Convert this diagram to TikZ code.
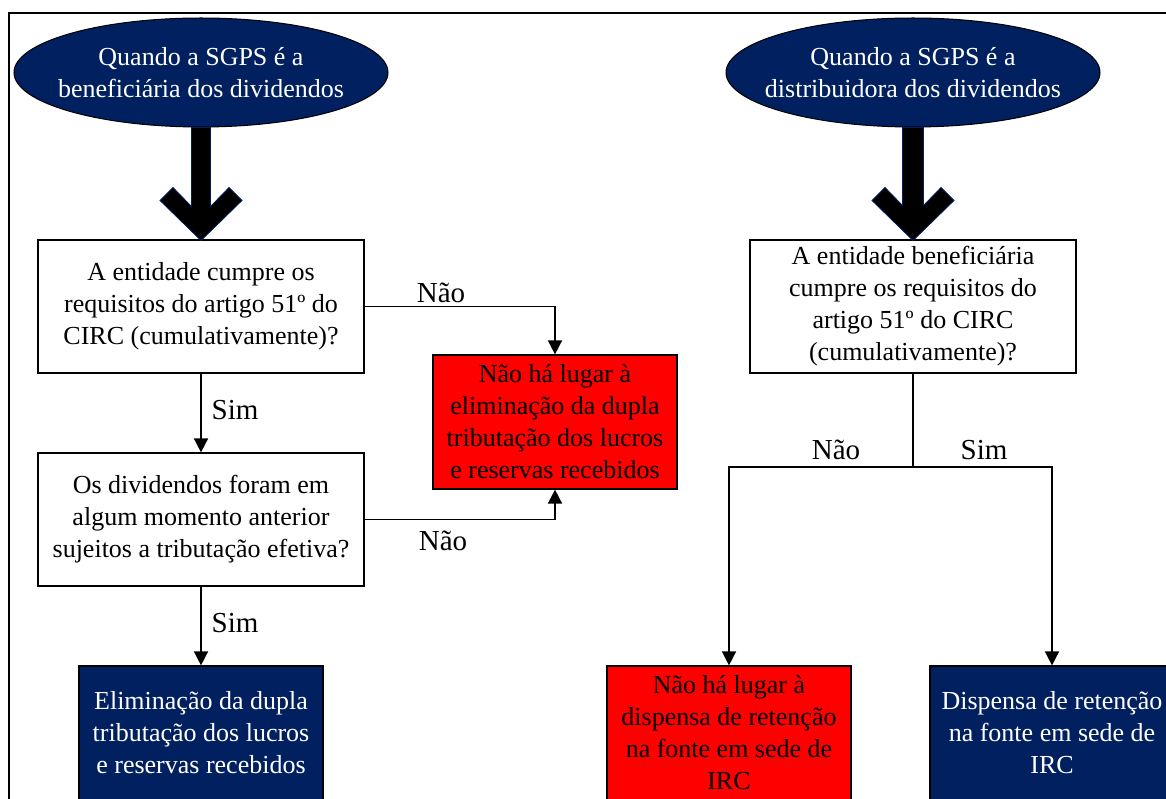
\documentclass[tikz,border=0pt]{standalone}
\usepackage{fontspec}
\setmainfont{Liberation Serif}
\usetikzlibrary{shapes.geometric,arrows.meta}
\definecolor{navy}{HTML}{002060}
\definecolor{alertred}{HTML}{FF0000}
\begin{document}
\begin{tikzpicture}[x=1pt,y=-1pt,
  txt/.style={font=\fontsize{26}{32}\selectfont, align=center},
  startoval/.style={ellipse, draw=black, line width=1pt, fill=navy,
    minimum width=374pt, minimum height=109pt, inner sep=0pt},
  ovaltext/.style={txt, text=white, inner sep=0pt},
  question/.style={txt, draw=black, line width=1.2pt, fill=white,
    minimum width=326pt, minimum height=133pt, inner sep=0pt},
  outcome/.style={txt, draw=black, line width=1.2pt,
    minimum width=244pt, minimum height=134pt, inner sep=0pt},
  negative/.style={outcome, fill=alertred, text=black},
  positive/.style={outcome, fill=navy, text=white},
  link/.style={line width=1.6pt},
  flow/.style={link, -{Triangle[length=14pt,width=14pt]}},
  lbl/.style={font=\fontsize{29}{32}\selectfont, inner sep=0pt, anchor=base},
  bigarrow/.style={fill=black, draw=navy, line width=0.8pt, line join=miter},
]
\useasboundingbox (0,0) rectangle (1166,799);
\clip (0,0) rectangle (1166,799);
\fill[white] (0,0) rectangle (1166,799);

% outer frame
\draw[line width=2.6pt] (9,13) rectangle (1220,860);

% left branch
\node[startoval] (e1) at (201,72.5) {};
\node[ovaltext] (t1) at (e1.center) {Quando a SGPS é a\\beneficiária dos dividendos};
\node[question] (q1) at (201,306.5) {A entidade cumpre os\\requisitos do artigo 51º do\\CIRC (cumulativamente)?};
\node[question] (q2) at (201,519.5) {Os dividendos foram em\\algum momento anterior\\sujeitos a tributação efetiva?};
\node[negative] (r1) at (555,422) {Não há lugar à\\eliminação da dupla\\tributação dos lucros\\e reservas recebidos};
\node[positive] (b1) at (201,733) {Eliminação da dupla\\tributação dos lucros\\e reservas recebidos};

% right branch
\node[startoval] (e2) at (913,72.5) {};
\node[ovaltext] (t2) at (e2.center) {Quando a SGPS é a\\distribuidora dos dividendos};
\node[question] (q3) at (913,306.5) {A entidade beneficiária\\cumpre os requisitos do\\artigo 51º do CIRC\\(cumulativamente)?};
\node[negative] (r2) at (729,733) {Não há lugar à\\dispensa de retenção\\na fonte em sede de\\IRC};
\node[positive] (b2) at (1052,733) {Dispensa de retenção\\na fonte em sede de\\IRC};

% block arrows below the ovals
\begin{scope}[shift={(e1.south)}]
  \draw[bigarrow] (-9.5,0) -- (-9.5,79) -- (-28,60) -- (-41,73) -- (0,113)
    -- (41,73) -- (28,60) -- (9.5,79) -- (9.5,0) -- cycle;
\end{scope}
\begin{scope}[shift={(e2.south)}]
  \draw[bigarrow] (-10.5,0) -- (-10.5,78) -- (-28,60) -- (-41,73) -- (0,113)
    -- (41,73) -- (28,60) -- (10.5,78) -- (10.5,0) -- cycle;
\end{scope}

% left connectors
\draw[flow] (q1.south) -- (q2.north);
\draw[flow] (q2.south) -- (b1.north);
\draw[flow] (q1.east) -| (r1.north);
\draw[flow] (q2.east) -| (r1.south);

% right connectors
\coordinate (split) at (913,467);
\draw[link] (q3.south) -- (split);
\draw[flow] (split) -| (r2.north);
\draw[flow] (split) -| (b2.north);

% branch labels
\node[lbl] (n1) at (441,302) {Não};
\node[lbl] (s1) at (235,419) {Sim};
\node[lbl] (n2) at (443,550) {Não};
\node[lbl] (s2) at (235,632) {Sim};
\node[lbl] (n3) at (836,459) {Não};
\node[lbl] (s3) at (984,459) {Sim};
\end{tikzpicture}
\end{document}
